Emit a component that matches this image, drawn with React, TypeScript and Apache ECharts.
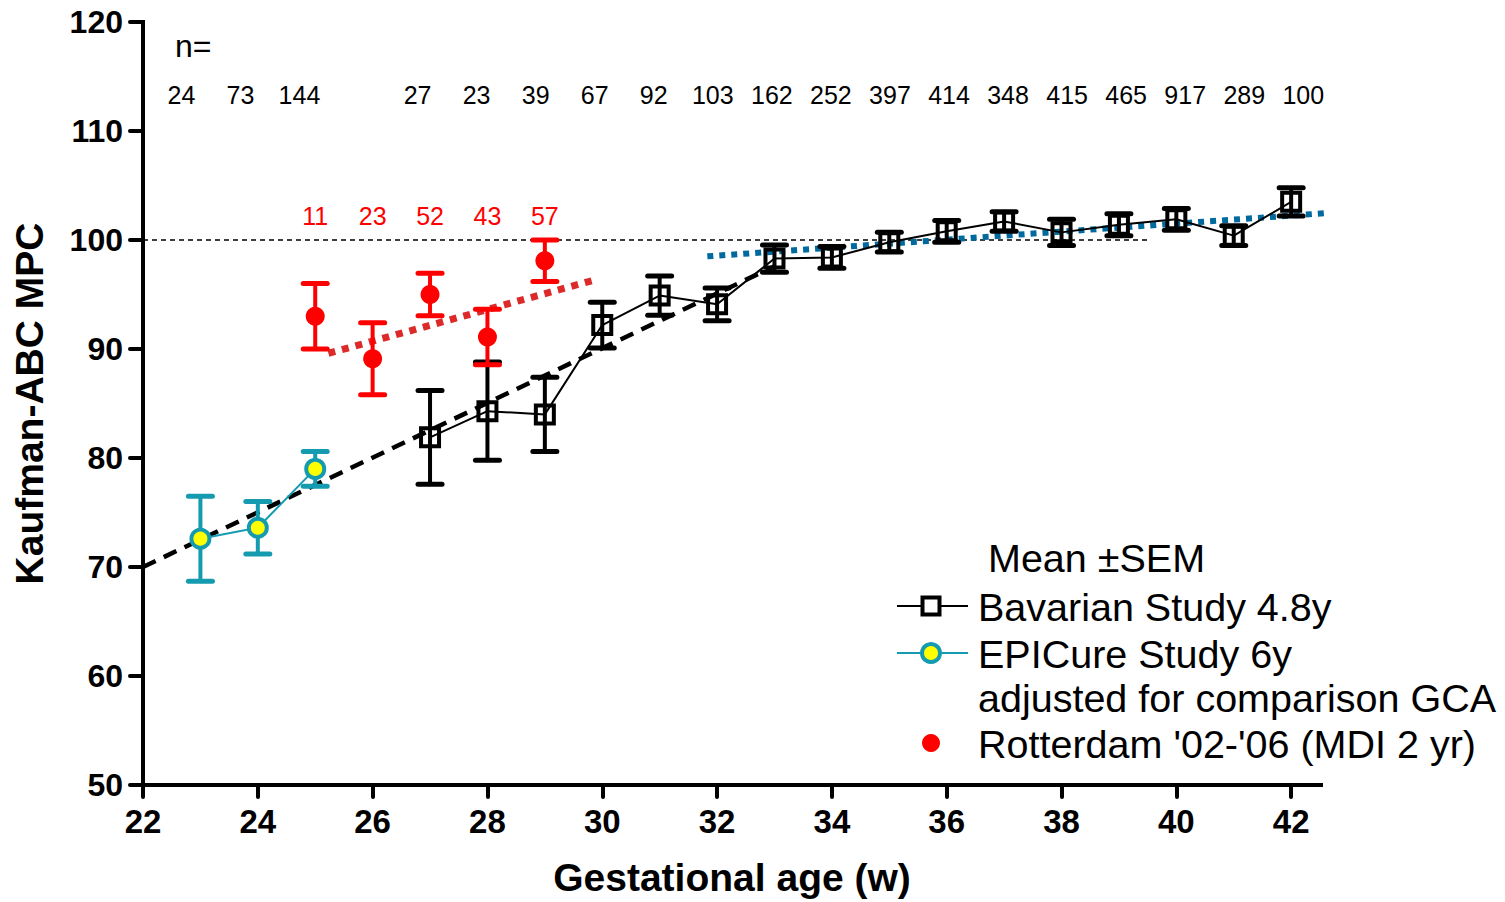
import React, { useEffect, useRef } from "react";
import * as echarts from "echarts";

// ---------- data ----------
const bavWeeks = [27, 28, 29, 30, 31, 32, 33, 34, 35, 36, 37, 38, 39, 40, 41, 42];
const bavMean = [81.9, 84.3, 84.0, 92.2, 94.9, 94.1, 98.3, 98.4, 99.8, 100.8, 101.7, 100.7, 101.4, 101.9, 100.4, 103.5];
const bavSem = [4.3, 4.5, 3.4, 2.1, 1.8, 1.5, 1.25, 1.0, 0.9, 1.0, 0.9, 1.2, 1.0, 1.0, 0.9, 1.3];
const bavN = [27, 23, 39, 67, 92, 103, 162, 252, 397, 414, 348, 415, 465, 917, 289, 100];

const epiWeeks = [23, 24, 25];
const epiMean = [72.6, 73.6, 79.0];
const epiSem = [3.9, 2.4, 1.6];
const epiN = [24, 73, 144];

const rotWeeks = [25, 26, 27, 28, 29];
const rotMean = [93.0, 89.1, 95.0, 91.1, 98.1];
const rotSem = [3.0, 3.3, 1.95, 2.55, 1.9];
const rotN = [11, 23, 52, 43, 57];

const trendEarly = [[22, 70.0], [33, 97.6]];
const trendRotterdam = [[25.23, 89.6], [29.91, 96.4]];
const trendLate = [[31.83, 98.5], [42.84, 102.55]];
const referenceLine = [[22, 100], [39.5, 100]];

const xTickValues = [22, 24, 26, 28, 30, 32, 34, 36, 38, 40, 42];
const yTickValues = [50, 60, 70, 80, 90, 100, 110, 120];

// ---------- styles ----------
const FONT = "Liberation Sans, Arial, Helvetica, sans-serif";
const TEAL = "#159bb0";
const RED = "#ff0000";
const RED_TREND = "#dc2a2a";
const BLUE_TREND = "#006a9e";

function errorBars(weeks: number[], mean: number[], sem: number[], color: string, z: number) {
  return {
    type: "custom",
    silent: true,
    z,
    data: weeks.map((w, i) => [w, mean[i] - sem[i], mean[i] + sem[i]]),
    encode: { x: 0, y: [1, 2] },
    renderItem: (_params: any, api: any) => {
      const lo = api.coord([api.value(0), api.value(1)]);
      const hi = api.coord([api.value(0), api.value(2)]);
      const hw = 12;
      const style = { stroke: color, lineWidth: 4, lineCap: "round" };
      return {
        type: "group",
        children: [
          { type: "line", shape: { x1: hi[0], y1: hi[1], x2: lo[0], y2: lo[1] }, style },
          { type: "line", shape: { x1: hi[0] - hw, y1: hi[1], x2: hi[0] + hw, y2: hi[1] }, style: { ...style, lineWidth: 5 } },
          { type: "line", shape: { x1: lo[0] - hw, y1: lo[1], x2: lo[0] + hw, y2: lo[1] }, style: { ...style, lineWidth: 5 } },
        ],
      };
    },
  };
}

function labelRow(weeks: number[], values: number[], yLevel: number, color: string, xAxisIndex: number) {
  return {
    type: "scatter",
    xAxisIndex,
    silent: true,
    z: 10,
    symbol: "circle",
    symbolSize: 0.1,
    itemStyle: { color: "#ffffff", opacity: 1 },
    data: weeks.map((w, i) => [w, yLevel, values[i]]),
    label: {
      show: true,
      position: "inside",
      formatter: (p: any) => String(p.value[2]),
      fontSize: 25,
      color,
      opacity: 1,
      textBorderWidth: 0,
      textBorderColor: "transparent",
      fontFamily: FONT,
    },
  };
}

export default function App() {
  const ref = useRef<HTMLDivElement>(null);

  useEffect(() => {
    if (!ref.current) return;
    const chart = echarts.init(ref.current, undefined, { renderer: "svg" });

    const nWeeks = [...epiWeeks, ...bavWeeks];
    const nValues = [...epiN, ...bavN];

    const legendX = 897;
    const legendTextX = 978;
    const legendFont = 39.5;

    const option: any = {
      animation: false,
      backgroundColor: "#ffffff",
      textStyle: { fontFamily: FONT },
      grid: { left: 143, right: 184, top: 22, bottom: 115, containLabel: false },
      xAxis: [
        {
          type: "value",
          min: 22,
          max: 42.52,
          interval: 2,
          name: "Gestational age (w)",
          nameLocation: "middle",
          nameGap: 73,
          nameTextStyle: { fontSize: 39, fontWeight: "bold", color: "#000", fontFamily: FONT },
          axisLine: { show: true, lineStyle: { color: "#000", width: 4, cap: "square" } },
          axisTick: { show: true, length: 12, lineStyle: { color: "#000", width: 4, cap: "round" }, customValues: xTickValues },
          axisLabel: { fontSize: 33, fontWeight: "bold", color: "#000", margin: 20, fontFamily: FONT, customValues: xTickValues },
          splitLine: { show: false },
        },
        {
          type: "value",
          min: 22.35,
          max: 42.3,
          show: false,
        },
      ],
      yAxis: {
        type: "value",
        min: 50,
        max: 120,
        interval: 10,
        name: "Kaufman-ABC MPC",
        nameLocation: "middle",
        nameGap: 94,
        nameTextStyle: { fontSize: 39, fontWeight: "bold", color: "#000", fontFamily: FONT },
        axisLine: { show: true, lineStyle: { color: "#000", width: 4, cap: "square" } },
        axisTick: { show: true, length: 13, lineStyle: { color: "#000", width: 4, cap: "round" }, customValues: yTickValues },
        axisLabel: { fontSize: 32, fontWeight: "bold", color: "#000", margin: 20, fontFamily: FONT, customValues: yTickValues },
        splitLine: { show: false },
      },
      series: [
        {
          type: "line",
          name: "reference",
          data: referenceLine,
          symbol: "none",
          silent: true,
          z: 1,
          lineStyle: { color: "#000", width: 1.5, type: [5, 4] },
        },
        {
          type: "line",
          name: "trend early",
          data: trendEarly,
          symbol: "none",
          silent: true,
          z: 2,
          lineStyle: { color: "#000", width: 4.5, type: [14, 9], cap: "butt" },
        },
        {
          type: "line",
          name: "trend Rotterdam",
          data: trendRotterdam,
          symbol: "none",
          silent: true,
          z: 2,
          lineStyle: { color: RED_TREND, width: 7, type: [7, 7] },
        },
        {
          type: "line",
          name: "trend late",
          data: trendLate,
          symbol: "none",
          silent: true,
          clip: false,
          z: 2,
          lineStyle: { color: BLUE_TREND, width: 6, type: [6, 6] },
        },
        errorBars(bavWeeks, bavMean, bavSem, "#000", 3),
        errorBars(epiWeeks, epiMean, epiSem, TEAL, 3),
        errorBars(rotWeeks, rotMean, rotSem, RED, 3),
        {
          type: "line",
          name: "Bavarian Study 4.8y",
          data: bavWeeks.map((w, i) => [w, bavMean[i]]),
          symbol: "rect",
          symbolSize: 18,
          showAllSymbol: true,
          z: 5,
          lineStyle: { color: "#000", width: 2 },
          itemStyle: { color: "rgba(255,255,255,0)", borderColor: "#000", borderWidth: 4 },
        },
        {
          type: "line",
          name: "EPICure Study 6y",
          data: epiWeeks.map((w, i) => [w, epiMean[i]]),
          symbol: "circle",
          symbolSize: 18,
          z: 5,
          lineStyle: { color: TEAL, width: 2 },
          itemStyle: { color: "#ffff00", borderColor: TEAL, borderWidth: 4 },
        },
        {
          type: "scatter",
          name: "Rotterdam '02-'06 (MDI 2 yr)",
          data: rotWeeks.map((w, i) => [w, rotMean[i]]),
          symbol: "circle",
          symbolSize: 19,
          z: 5,
          itemStyle: { color: RED, opacity: 1 },
        },
        labelRow(nWeeks, nValues, 113.3, "#000", 1),
        labelRow(rotWeeks, rotN, 102.2, RED, 0),
      ],
      graphic: [
        { type: "text", left: 175, top: 30, style: { text: "n=", fontSize: 32, fill: "#000", fontFamily: FONT } },
        // legend
        { type: "text", x: 988, y: 558, style: { text: "Mean ±SEM", fontSize: legendFont, fill: "#000", fontFamily: FONT, verticalAlign: "middle" } },
        { type: "line", shape: { x1: legendX, y1: 606, x2: 968, y2: 606 }, style: { stroke: "#000", lineWidth: 2 } },
        { type: "rect", shape: { x: 931 - 8.5, y: 606 - 8.5, width: 17, height: 17 }, style: { fill: "#fff", stroke: "#000", lineWidth: 4 } },
        { type: "text", x: legendTextX, y: 607, style: { text: "Bavarian Study 4.8y", fontSize: legendFont, fill: "#000", fontFamily: FONT, verticalAlign: "middle" } },
        { type: "line", shape: { x1: legendX, y1: 653, x2: 968, y2: 653 }, style: { stroke: TEAL, lineWidth: 2 } },
        { type: "circle", shape: { cx: 931, cy: 653, r: 9 }, style: { fill: "#ffff00", stroke: TEAL, lineWidth: 4 } },
        { type: "text", x: legendTextX, y: 654, style: { text: "EPICure Study 6y", fontSize: legendFont, fill: "#000", fontFamily: FONT, verticalAlign: "middle" } },
        { type: "text", x: legendTextX, y: 698, style: { text: "adjusted for comparison GCA", fontSize: legendFont, fill: "#000", fontFamily: FONT, verticalAlign: "middle" } },
        { type: "circle", shape: { cx: 931, cy: 743, r: 9 }, style: { fill: RED } },
        { type: "text", x: legendTextX, y: 744, style: { text: "Rotterdam '02-'06 (MDI 2 yr)", fontSize: legendFont, fill: "#000", fontFamily: FONT, verticalAlign: "middle" } },
      ],
    };

    chart.setOption(option);
    return () => chart.dispose();
  }, []);

  return (
    <div
      ref={ref}
      style={{ position: "fixed", left: 0, top: 0, width: 1505, height: 902, background: "#fff" }}
    />
  );
}
